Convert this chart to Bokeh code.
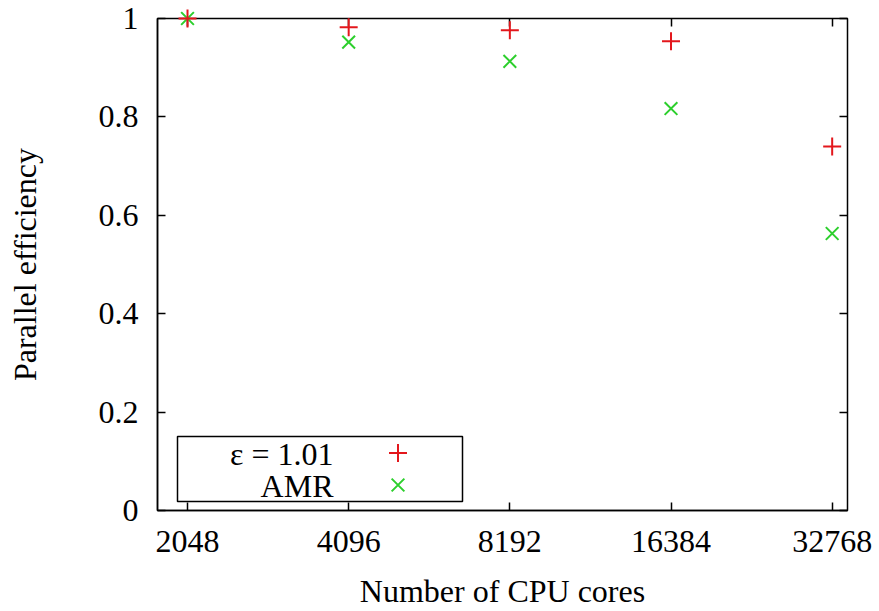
from bokeh.plotting import figure
from bokeh.models import (FixedTicker, LogAxis, LinearAxis, Range1d, Legend, LegendItem,
                          Label, BoxAnnotation)
from bokeh.embed import file_html
from bokeh.resources import INLINE

# ---- data ----
cores = [2048, 4096, 8192, 16384, 32768]
eps_eff = [1.0, 0.982, 0.976, 0.954, 0.740]
amr_eff = [1.0, 0.952, 0.913, 0.817, 0.563]
x_ticks = [2048, 4096, 8192, 16384, 32768]
x_tick_labels = ["2048", "4096", "8192", "16384", "32768"]
y_ticks = [0, 0.2, 0.4, 0.6, 0.8, 1.0]
y_tick_labels = ["0", "0.2", "0.4", "0.6", "0.8", "1"]
series_names = ["ε = 1.01", "AMR"]

FONT = "Liberation Serif"
RED = "#e3171c"
GREEN = "#2ccf2c"

p = figure(width=879, height=611, x_axis_type="log",
           x_range=Range1d(1800, 35000), y_range=Range1d(0, 1),
           output_backend="svg", toolbar_location=None,
           min_border_left=157, min_border_top=18, min_border_right=32, min_border_bottom=100)

p.xgrid.visible = False
p.ygrid.visible = False
p.outline_line_color = "black"
p.outline_line_width = 1.5
p.background_fill_color = "white"
p.border_fill_color = "white"

# main axes
xa = p.xaxis[0]
xa.ticker = FixedTicker(ticks=x_ticks, minor_ticks=[])
xa.major_label_overrides = {t: l for t, l in zip(x_ticks, x_tick_labels)}
ya = p.yaxis[0]
ya.ticker = FixedTicker(ticks=y_ticks, minor_ticks=[])
ya.major_label_overrides = {t: l for t, l in zip(y_ticks, y_tick_labels)}

for ax in (xa, ya):
    ax.major_tick_in = 8
    ax.major_tick_out = 0
    ax.minor_tick_line_color = None
    ax.major_tick_line_color = "black"
    ax.major_tick_line_width = 1.5
    ax.axis_line_color = "black"
    ax.axis_line_width = 1.5
    ax.major_label_text_font = FONT
    ax.major_label_text_font_size = "32px"
    ax.major_label_text_color = "black"
    ax.axis_label_text_font = FONT
    ax.axis_label_text_font_size = "32px"
    ax.axis_label_text_font_style = "normal"
    ax.axis_label_text_color = "black"

xa.axis_label = "Number of CPU cores"
xa.major_label_standoff = 20
xa.axis_label_standoff = 18
ya.axis_label = "Parallel efficiency"
ya.major_label_standoff = 19
ya.axis_label_standoff = 53

# mirrored ticks on top and right
top = LogAxis(ticker=FixedTicker(ticks=x_ticks, minor_ticks=[]))
right = LinearAxis(ticker=FixedTicker(ticks=y_ticks, minor_ticks=[]))
for ax in (top, right):
    ax.major_tick_in = 8
    ax.major_tick_out = 0
    ax.major_tick_line_width = 1.5
    ax.minor_tick_line_color = None
    ax.axis_line_color = None
    ax.major_label_text_font_size = "0px"
    ax.major_label_text_alpha = 0
    ax.major_label_standoff = 0
p.add_layout(top, "above")
p.add_layout(right, "right")

# data
r_amr = p.scatter(cores, amr_eff, marker="x", size=18, line_color=GREEN, line_width=2,
                  level="overlay")
r_eps = p.scatter(cores, eps_eff, marker="cross", size=18, line_color=RED, line_width=2,
                  level="overlay")

# gnuplot-style key: text on the left, marker on the right
box = BoxAnnotation(left=20, right=305, bottom=9, top=74,
                    left_units="screen", right_units="screen",
                    bottom_units="screen", top_units="screen",
                    fill_color="white", fill_alpha=1.0,
                    line_color="black", line_alpha=1.0, line_width=1.5, level="overlay")
p.add_layout(box)

row_y = [57, 25]
for name, yy, r in zip(series_names, row_y, [r_eps, r_amr]):
    p.add_layout(Label(x=176, y=yy, x_units="screen", y_units="screen", text=name,
                       text_align="right", text_baseline="middle",
                       text_font=FONT, text_font_size="32px", text_color="black",
                       level="overlay"))
    leg = Legend(items=[LegendItem(label=" ", renderers=[r])],
                 location=(218, yy - 22), glyph_width=45, glyph_height=45, label_height=45,
                 label_width=0, label_standoff=0, padding=0, spacing=0, margin=0,
                 border_line_alpha=0, background_fill_alpha=0,
                 label_text_font_size="32px", level="overlay")
    p.add_layout(leg)

open("out.html", "w").write(file_html(p, INLINE))
